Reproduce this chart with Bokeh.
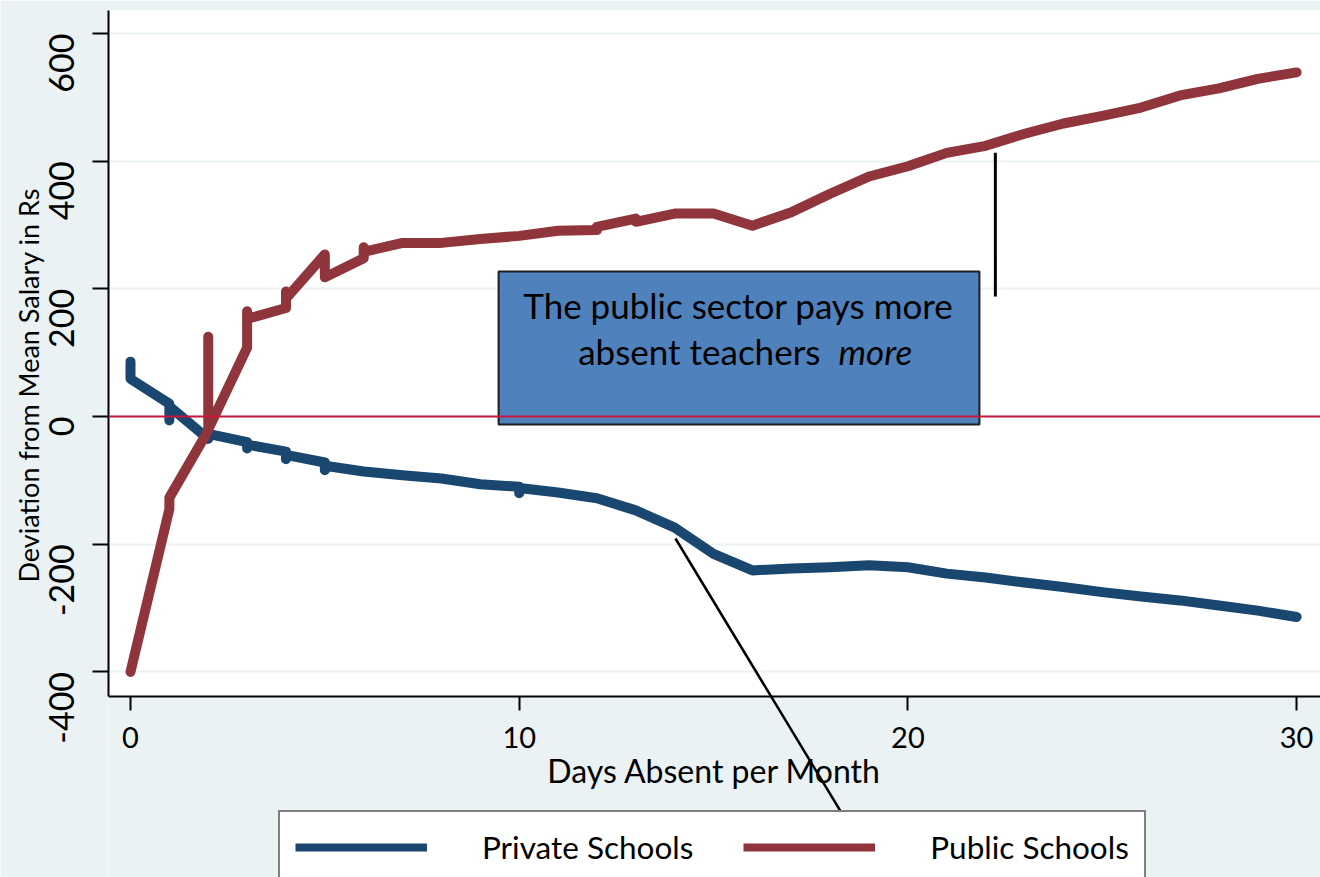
import math
from bokeh.plotting import figure
from bokeh.models import Range1d, FixedTicker, Span, Legend, LegendItem, Arrow, BoxAnnotation
from bokeh.core.properties import value
from bokeh.embed import file_html
from bokeh.resources import INLINE

# ---- data ----
days_private = [0, 0, 1, 1, 1, 2, 2, 3, 3, 3, 4, 4, 4, 5, 5, 5, 6, 7, 8, 9, 10, 10, 10,
                11, 12, 13, 14, 15, 16, 17, 18, 19, 20, 21, 22, 23, 24, 25, 26, 27, 28, 29, 30]
private_dev = [86, 59, 20, -6, 16, -35, -27, -40, -50, -44, -55, -67, -60, -72, -84, -77, -86, -92, -97, -106, -110, -120, -112,
               -119, -128, -147, -174, -215, -241, -238, -236, -233, -236, -246, -252, -260, -267, -275, -282, -288, -296, -304, -314]

days_public = [0, 1, 1, 2, 2, 2, 3, 3, 3, 4, 4, 4, 5, 5, 6, 6, 6, 7, 8, 9, 10, 11, 12, 12, 13, 13,
               14, 15, 16, 17, 18, 19, 20, 21, 22, 23, 24, 25, 26, 27, 28, 29, 30]
public_dev = [-400, -145, -127, -22, 125, -20, 108, 165, 153, 170, 196, 185, 254, 218, 248, 265, 258, 272, 272, 278, 283, 291, 292, 297, 310, 305,
              318, 318, 299, 320, 349, 376, 392, 413, 424, 443, 459, 471, 484, 503, 514, 529, 539]

x_ticks = [0, 10, 20, 30]
y_ticks = [-400, -200, 0, 200, 400, 600]
series_names = ["Private Schools", "Public Schools"]
x_title = "Days Absent per Month"
y_title = "Deviation from Mean Salary in Rs"
note_line1 = "The public sector pays more"
note_line2a = "absent teachers"
note_line2b = "more"

BG = "#eaf2f3"
NAVY = "#1a476f"
MAROON = "#90353b"
FONT = "Lato"

Y_AXIS_BOTTOM = -438.5   # where the x axis sits
Y_TOP = 636
Y_CANVAS_BOTTOM = -722   # frame runs to the bottom of the canvas

p = figure(width=1320, height=877, x_range=Range1d(-0.566, 30.615), y_range=Range1d(Y_CANVAS_BOTTOM, Y_TOP),
           output_backend="svg", toolbar_location=None,
           background_fill_color="white", border_fill_color=BG, outline_line_color=None,
           min_border_left=108, min_border_top=10, min_border_right=0, min_border_bottom=0)

# area below the x axis has the page colour
p.add_layout(BoxAnnotation(top=Y_AXIS_BOTTOM, fill_color=BG, fill_alpha=1.0, line_color=None, level="underlay"))

# axes
p.xaxis.fixed_location = Y_AXIS_BOTTOM
p.yaxis.bounds = (Y_AXIS_BOTTOM, Y_TOP)
p.xaxis.ticker = FixedTicker(ticks=x_ticks)
p.yaxis.ticker = FixedTicker(ticks=y_ticks)
p.yaxis.major_label_overrides = {t: str(t) for t in y_ticks}
for ax in (p.xaxis[0], p.yaxis[0]):
    ax.axis_line_width = 2
    ax.axis_line_color = "black"
    ax.major_tick_line_width = 2
    ax.major_tick_line_color = "black"
    ax.major_tick_in = 0
    ax.minor_tick_line_color = None
    ax.major_label_text_font = FONT
    ax.major_label_text_color = "black"
    ax.axis_label_text_font = FONT
    ax.axis_label_text_font_style = "normal"
    ax.axis_label_text_color = "black"
p.xaxis.major_label_text_font_size = "29px"
p.yaxis.major_label_text_font_size = "34px"
p.xaxis.axis_label_text_font_size = "32px"
p.yaxis.axis_label_text_font_size = "27px"
p.xaxis.major_tick_out = 14
p.yaxis.major_tick_out = 16
p.yaxis.major_label_orientation = math.pi / 2
p.yaxis.major_label_standoff = 31
p.xaxis.major_label_standoff = 16
p.xaxis.axis_label = x_title
# leading no-break spaces nudge the centred title up to the middle of the axis
p.yaxis.axis_label = "\u00a0" * 17 + y_title
p.xaxis.axis_label_standoff = 0
p.yaxis.axis_label_standoff = -11

p.xgrid.visible = False
p.ygrid.grid_line_color = BG
p.ygrid.grid_line_width = 2

# zero line
p.add_layout(Span(location=0, dimension="width", line_color="#c8173c", line_width=2))

# series
r_priv = p.line(days_private, private_dev, line_color=NAVY, line_width=10,
                line_join="round", line_cap="round")
r_pub = p.line(days_public, public_dev, line_color=MAROON, line_width=10,
               line_join="round", line_cap="round")
# flat-ended keys for the legend (single point: draws nothing in the plot)
k_priv = p.line(days_private[:1], private_dev[:1], line_color=NAVY, line_width=8, line_cap="butt")
k_pub = p.line(days_public[:1], public_dev[:1], line_color=MAROON, line_width=8, line_cap="butt")

# note box
p.quad(left=[9.47], right=[21.84], top=[227], bottom=[-12.5],
       fill_color="#4f81bd", line_color="#1e1e1e", line_width=2)
p.text(x=[15.64], y=[175.4], text=[note_line1], text_align="center", text_baseline="middle",
       text_font=value(FONT), text_font_size="35px", text_color="black")
p.text(x=[15.64], y=[103.4], text=[note_line2a], text_align="right", text_baseline="middle",
       x_offset=82, text_font=value(FONT), text_font_size="35px", text_color="black")
p.text(x=[15.64], y=[103.4], text=[note_line2b], text_align="left", text_baseline="middle",
       x_offset=100, text_font=value(FONT), text_font_size="35px", text_font_style="italic",
       text_color="black")

# legend (below the x axis)
legend = Legend(items=[LegendItem(label=series_names[0], renderers=[k_priv]),
                       LegendItem(label=series_names[1], renderers=[k_pub])],
                orientation="horizontal", location=(170, -7), margin=0,
                glyph_width=132, glyph_height=40, label_height=40, label_standoff=55,
                spacing=50, padding=15,
                border_line_color="black", border_line_width=2, background_fill_color="white",
                background_fill_alpha=1.0,
                label_text_font=FONT, label_text_font_size="31.5px", label_text_color="black")
p.add_layout(legend, "center")

# pointer lines
p.add_layout(Arrow(end=None, x_start=14.02, y_start=-191, x_end=19.3, y_end=Y_CANVAS_BOTTOM,
                   line_color="black", line_width=2.5))
p.add_layout(Arrow(end=None, x_start=22.25, y_start=413, x_end=22.25, y_end=188,
                   line_color="black", line_width=3))

open("out.html", "w").write(file_html(p, INLINE))
